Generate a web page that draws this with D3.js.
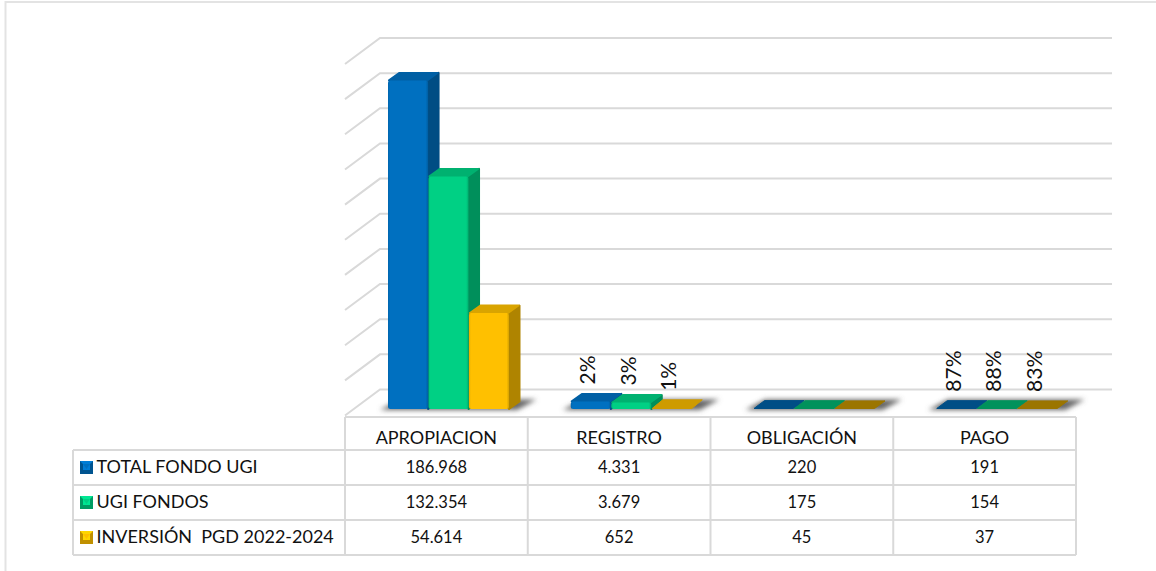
<!DOCTYPE html>
<html>
<head>
<meta charset="utf-8">
<script src="https://cdn.jsdelivr.net/npm/d3@7"></script>
<style>
  html, body { margin: 0; padding: 0; background: #fff; }
  svg { display: block; }
  text { font-family: Lato, "Open Sans", sans-serif; fill: #111; }
</style>
</head>
<body>
<svg id="chart" width="1156" height="571"></svg>
<script>
const categories = ["APROPIACION", "REGISTRO", "OBLIGACIÓN", "PAGO"];
const seriesNames = ["TOTAL FONDO UGI", "UGI FONDOS", "INVERSIÓN  PGD 2022-2024"];
const totalFondo = [186968, 4331, 220, 191];
const ugiFondos = [132354, 3679, 175, 154];
const inversion = [54614, 652, 45, 37];
const seriesValues = [totalFondo, ugiFondos, inversion];
// percent labels above the bars, null = no label
const totalPct = [null, "2%", null, "87%"];
const ugiPct = [null, "3%", null, "88%"];
const inversionPct = [null, "1%", null, "83%"];
const seriesPct = [totalPct, ugiPct, inversionPct];
const yTicks = d3.range(0, 200001, 20000);

const colors = ["#0070c0", "#00d084", "#ffc000"];
const GRID = "#d9d9d9";
const DX = 35, DY = 26; // wall depth
const BAR_DX = 11.5, BAR_DY = 8.5; // bar depth

const svg = d3.select("#chart");
const defs = svg.append("defs");
defs.append("filter").attr("id", "blur")
  .attr("x", "-20%").attr("y", "-100%").attr("width", "140%").attr("height", "300%")
  .append("feGaussianBlur").attr("stdDeviation", 2.5);

// front face bevel, one gradient per series
colors.forEach((c, i) => {
  const col = d3.rgb(c);
  const g = defs.append("linearGradient").attr("id", `bevel${i}`);
  g.append("stop").attr("offset", "0%").attr("stop-color", col.darker(0.3));
  g.append("stop").attr("offset", "5%").attr("stop-color", col);
  g.append("stop").attr("offset", "94%").attr("stop-color", col);
  g.append("stop").attr("offset", "100%").attr("stop-color", col.darker(0.5));
});

const fmt = d3.formatLocale({ decimal: ",", thousands: ".", grouping: [3], currency: ["", ""] }).format(",d");

const x = d3.scaleBand().domain(categories).range([345, 1076]);
const xInner = d3.scaleBand().domain(d3.range(3)).range([43, 164]).paddingInner(0.01);
const y = d3.scaleLinear().domain([0, 200000]).range([409, 57.5]);
// front wall sits a bit lower than the bar bases
const yWall = (v) => y(v) + 6.5;

// outer frame
svg.append("path").attr("d", "M5.5,571V2H1156").attr("fill", "none").attr("stroke", "#e3e3e3").attr("stroke-width", 2);

// gridlines
const grid = svg.append("g").attr("fill", "none").attr("stroke", GRID).attr("stroke-width", 2);
grid.selectAll("path").data(yTicks).join("path")
  .attr("d", (t) => `M345,${yWall(t)}L${345 + DX},${yWall(t) - DY}H1112`);

// floor shadows
const shadows = svg.append("g").attr("filter", "url(#blur)").attr("fill", "#666");
categories.forEach((c) => {
  const x0 = x(c) + xInner(0), x1 = x(c) + xInner(2) + xInner.bandwidth();
  const base = y(0) + 1;
  shadows.append("path")
    .attr("d", `M${x0 - 8},${base}L${x0 + BAR_DX},${base - BAR_DY - 2}H${x1 + BAR_DX + 16}L${x1 + 8},${base}Z`);
});

// bars, drawn back to front inside each category
const bars = svg.append("g");
categories.forEach((c, ci) => {
  seriesValues.forEach((vals, si) => {
    const g = bars.append("g").attr("stroke-linejoin", "round");
    const col = d3.rgb(colors[si]);
    const x0 = x(c) + xInner(si);
    const w = xInner.bandwidth();
    const yt = y(vals[ci]);
    const yb = y(0);
    const h = yb - yt;
    if (h > 3) {
      const side = col.darker(1.05), top = col.darker(0.45);
      g.append("path").attr("fill", side).attr("stroke", side).attr("stroke-width", 2)
        .attr("d", `M${x0 + w},${yb}V${yt}l${BAR_DX - 1},${-BAR_DY + 1}V${yb - BAR_DY + 1}Z`);
      g.append("path").attr("fill", top).attr("stroke", top).attr("stroke-width", 2)
        .attr("d", `M${x0 + 1},${yt}l${BAR_DX - 1},${-BAR_DY + 1}H${x0 + w + BAR_DX - 2}l${-BAR_DX + 1},${BAR_DY - 1}Z`);
      g.append("rect").attr("x", x0).attr("y", yt).attr("width", w).attr("height", h)
        .attr("rx", 2.5).attr("fill", `url(#bevel${si})`);
    } else {
      // flat bars only show the top face
      const top = h > 1 ? col.darker(0.6) : col.darker(si === 2 ? 1.4 : 1.0);
      g.append("path").attr("fill", top).attr("stroke", top).attr("stroke-width", 1)
        .attr("d", `M${x0 + 0.5},${yb - 0.5}l${BAR_DX - 1},${-BAR_DY - h + 1}H${x0 + w + BAR_DX - 1}l${-BAR_DX + 1},${BAR_DY + h - 1}Z`);
    }
  });
});

// percent labels
const labels = svg.append("g").attr("font-size", 21);
categories.forEach((c, ci) => {
  seriesPct.forEach((pcts, si) => {
    if (!pcts[ci]) return;
    const cx = x(c) + xInner(si) + xInner.bandwidth() / 2 - 3;
    const yb = y(seriesValues[si][ci]) - BAR_DY - 8.5;
    labels.append("text").attr("transform", `translate(${cx},${yb}) rotate(-90)`)
      .attr("dy", "0.36em").text(pcts[ci]);
  });
});

// data table
const rowY = [417, 450, 485, 520, 555];
const colX = [73].concat(x.range()[0], categories.map((c) => x(c) + x.bandwidth()));
const table = svg.append("g").attr("stroke", GRID).attr("stroke-width", 2).attr("fill", "none");
rowY.forEach((ry, i) => {
  table.append("path").attr("d", `M${i === 0 ? 345 : 73},${ry}H1076`);
});
colX.forEach((cx, i) => {
  table.append("path").attr("d", `M${cx},${i === 0 ? 450 : 417}V555`);
});

// Lato digits run wide, so the numbers get a smaller size than the names
const cells = svg.append("g").attr("font-size", 18);
categories.forEach((c, ci) => {
  const cx = x(c) + x.bandwidth() / 2;
  cells.append("text").attr("x", cx).attr("y", 438).attr("dy", "0.36em")
    .attr("text-anchor", "middle").text(c);
  seriesValues.forEach((vals, si) => {
    cells.append("text").attr("x", cx).attr("y", (rowY[si + 1] + rowY[si + 2]) / 2).attr("dy", "0.36em")
      .attr("font-size", 16.5).attr("text-anchor", "middle").text(fmt(vals[ci]));
  });
});

// legend keys inside the table
seriesNames.forEach((name, si) => {
  const col = d3.rgb(colors[si]);
  const mid = (rowY[si + 1] + rowY[si + 2]) / 2;
  const k = svg.append("g").attr("transform", `translate(80,${mid - 6.5})`);
  k.append("rect").attr("width", 13).attr("height", 13).attr("fill", col.darker(0.8));
  k.append("path").attr("d", "M0,0H13L10,3V9H3V3Z").attr("fill", col.brighter(0.3));
  k.append("path").attr("d", "M3,3H10L6.5,8Z").attr("fill", col);
  cells.append("text").attr("x", 96.5).attr("y", mid - 1).attr("dy", "0.36em")
    .style("white-space", "pre").text(name);
});
</script>
</body>
</html>
